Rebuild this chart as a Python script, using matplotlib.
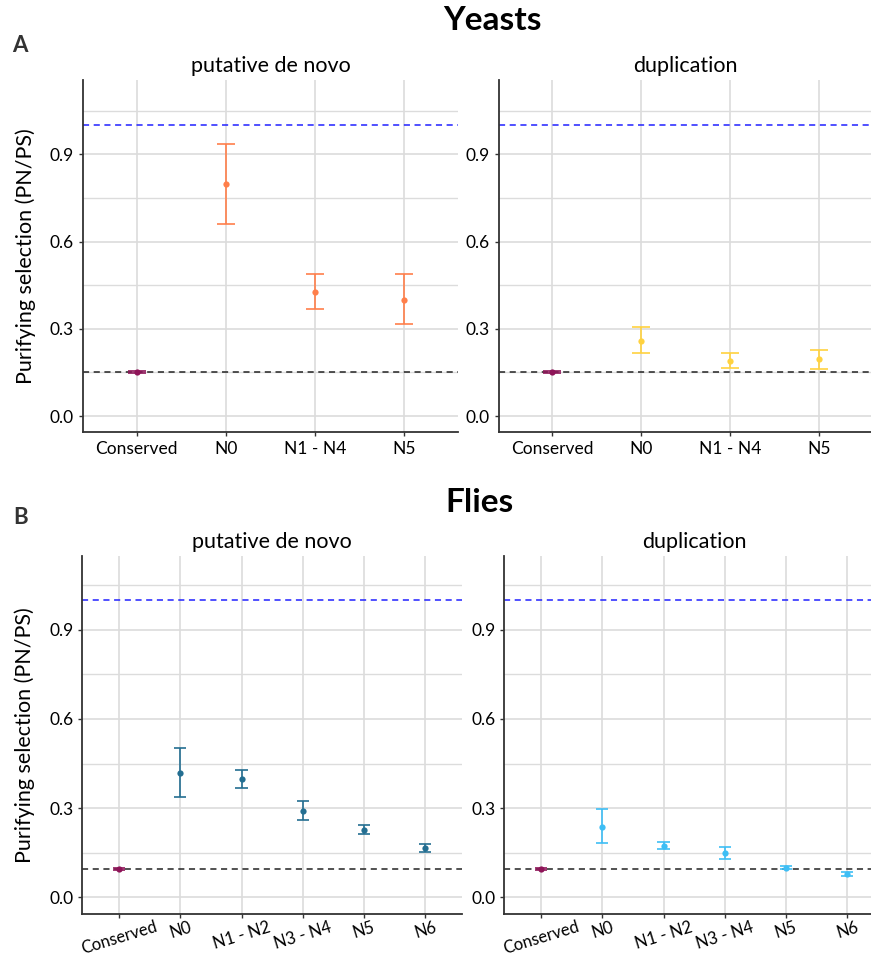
import matplotlib as mpl
mpl.use('Agg')
import matplotlib.pyplot as plt
import numpy as np

plt.rcParams['font.family'] = ['Lato', 'DejaVu Sans']

# yeasts
yeast_cats = ['Conserved', 'N0', 'N1 - N4', 'N5']
yeast_denovo_mean = [0.152, 0.798, 0.427, 0.401]
yeast_denovo_lo = [0.148, 0.662, 0.367, 0.317]
yeast_denovo_hi = [0.156, 0.935, 0.489, 0.489]
yeast_dup_mean = [0.152, 0.258, 0.190, 0.197]
yeast_dup_lo = [0.148, 0.218, 0.164, 0.163]
yeast_dup_hi = [0.156, 0.305, 0.217, 0.228]
yeast_ref = 0.152

# flies
fly_cats = ['Conserved', 'N0', 'N1 - N2', 'N3 - N4', 'N5', 'N6']
fly_denovo_mean = [0.095, 0.419, 0.397, 0.291, 0.227, 0.166]
fly_denovo_lo = [0.092, 0.337, 0.368, 0.261, 0.214, 0.152]
fly_denovo_hi = [0.098, 0.503, 0.428, 0.324, 0.242, 0.178]
fly_dup_mean = [0.095, 0.237, 0.174, 0.148, 0.100, 0.079]
fly_dup_lo = [0.092, 0.182, 0.162, 0.129, 0.094, 0.073]
fly_dup_hi = [0.098, 0.296, 0.187, 0.168, 0.106, 0.085]
fly_ref = 0.095

cons_col = '#8E1458'
grid_col = '#DCDCDC'

fig = plt.figure(figsize=[8.71, 9.59], dpi=100)


def panel(rect, cats, mean, lo, hi, col, ref, ylim, title, rot):
    ax = fig.add_axes(rect)
    x = np.arange(1, len(cats) + 1)
    ax.set_xlim(0.4, len(cats) + 0.6)
    ax.set_ylim(*ylim)
    for yv in [0.15, 0.45, 0.75, 1.05]:
        ax.axhline(yv, color=grid_col, lw=1.0, zorder=0)
    for yv in [0.0, 0.3, 0.6, 0.9]:
        ax.axhline(yv, color=grid_col, lw=1.2, zorder=0)
    for xv in x:
        ax.axvline(xv, color=grid_col, lw=1.2, zorder=0)
    ax.axhline(1.0, color='#2020FF', lw=1.1, ls=(0, (4, 3)), zorder=1)
    ax.axhline(ref, color='#222222', lw=1.1, ls=(0, (4, 3)), zorder=1)
    cols = [cons_col] + [col] * (len(cats) - 1)
    for i in range(len(cats)):
        c = cols[i]
        ax.vlines(x[i], lo[i], hi[i], color=c, lw=1.4, alpha=0.85, zorder=3)
        ax.hlines([lo[i], hi[i]], x[i] - 0.1, x[i] + 0.1, color=c, lw=1.4, alpha=0.85, zorder=3)
        ax.plot(x[i], mean[i], 'o', color=c, ms=4.5, mec='none', zorder=4)
    ax.set_xticks(x)
    ax.set_yticks([0.0, 0.3, 0.6, 0.9])
    ax.set_yticklabels(['0.0', '0.3', '0.6', '0.9'])
    ax.tick_params(axis='both', labelsize=12.5, colors='#333333', labelcolor='black',
                   length=3, width=1)
    if rot:
        ax.set_xticklabels(cats, rotation=17, ha='center', va='top', fontsize=12)
        ax.tick_params(axis='x', pad=0.5)
    else:
        ax.set_xticklabels(cats)
    for s in ['top', 'right']:
        ax.spines[s].set_visible(False)
    for s in ['left', 'bottom']:
        ax.spines[s].set_color('#333333')
        ax.spines[s].set_linewidth(1.3)
    ax.set_title(title, fontsize=15.5, pad=6)
    return ax


ax1 = panel([0.0953, 0.5495, 0.4305, 0.367], yeast_cats, yeast_denovo_mean, yeast_denovo_lo,
            yeast_denovo_hi, '#FF7F4A', yeast_ref, (-0.055, 1.156), 'putative de novo', False)
ax2 = panel([0.5729, 0.5495, 0.429, 0.367], yeast_cats, yeast_dup_mean, yeast_dup_lo,
            yeast_dup_hi, '#FFD23F', yeast_ref, (-0.055, 1.156), 'duplication', False)
ax3 = panel([0.0945, 0.0469, 0.436, 0.3733], fly_cats, fly_denovo_mean, fly_denovo_lo,
            fly_denovo_hi, '#236E91', fly_ref, (-0.056, 1.148), 'putative de novo', True)
ax4 = panel([0.579, 0.0469, 0.436, 0.3733], fly_cats, fly_dup_mean, fly_dup_lo,
            fly_dup_hi, '#3DBEF5', fly_ref, (-0.056, 1.148), 'duplication', True)

ax1.set_ylabel('Purifying selection (PN/PS)', fontsize=15.5, labelpad=10)
ax3.set_ylabel('Purifying selection (PN/PS)', fontsize=15.5, labelpad=10)

fig.text(492 / 871, 1 - 21 / 959, 'Yeasts', fontsize=24, fontweight='bold', ha='center', va='center')
fig.text(479 / 871, 1 - 503 / 959, 'Flies', fontsize=24, fontweight='bold', ha='center', va='center')
fig.text(20 / 871, 1 - 45 / 959, 'A', fontsize=16, fontweight='bold', color='#333333', ha='center', va='center')
fig.text(21 / 871, 1 - 517 / 959, 'B', fontsize=16, fontweight='bold', color='#333333', ha='center', va='center')

plt.savefig('out.png', dpi=100)
plt.close(fig)
